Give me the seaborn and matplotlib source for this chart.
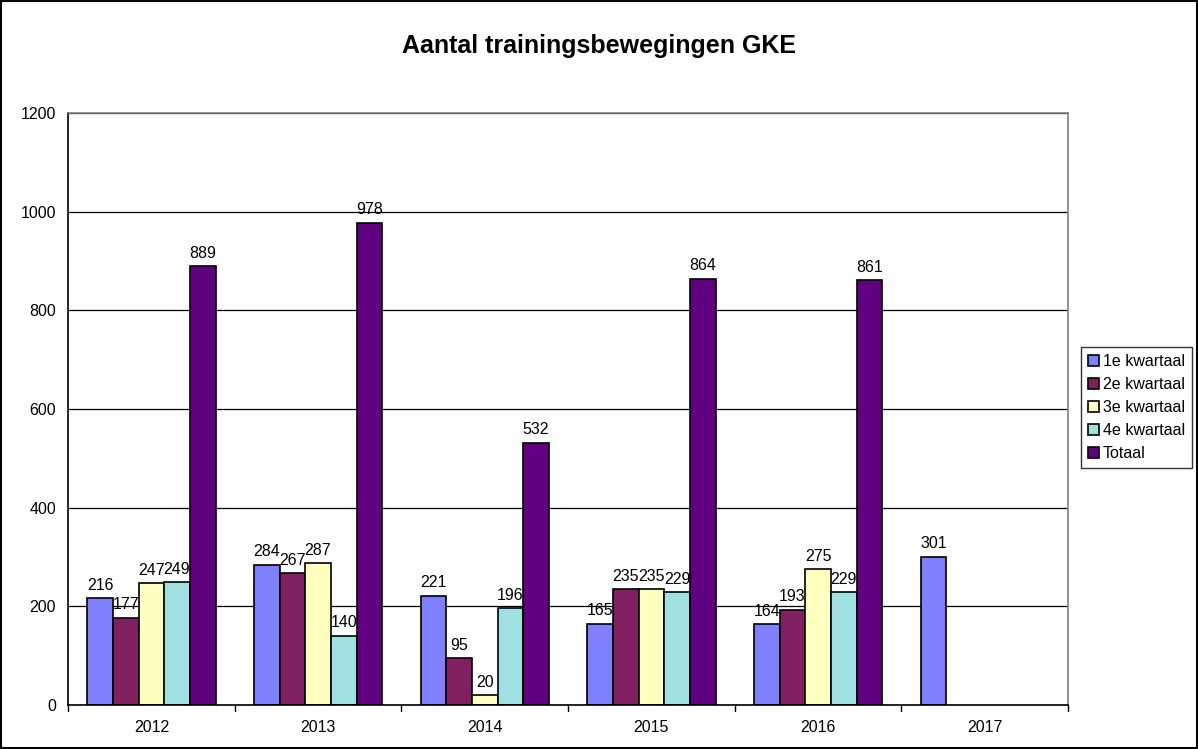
import numpy as np
import pandas as pd
import seaborn as sns
import matplotlib.pyplot as plt

# Gegevens
jaren = ['2012', '2013', '2014', '2015', '2016', '2017']
reeksen = ['1e kwartaal', '2e kwartaal', '3e kwartaal', '4e kwartaal', 'Totaal']
kw1 = [216, 284, 221, 165, 164, 301]
kw2 = [177, 267, 95, 235, 193, np.nan]
kw3 = [247, 287, 20, 235, 275, np.nan]
kw4 = [249, 140, 196, 229, 229, np.nan]
totaal = [889, 978, 532, 864, 861, np.nan]
kleuren = ['#8080FF', '#802060', '#FFFFC0', '#A0E0E0', '#600080']

df = pd.DataFrame({'jaar': jaren * 5,
                   'reeks': np.repeat(reeksen, len(jaren)),
                   'waarde': kw1 + kw2 + kw3 + kw4 + totaal})

sns.set_style('white')
plt.rcParams['font.family'] = ['Liberation Sans', 'DejaVu Sans']
plt.rcParams['text.color'] = 'black'
plt.rcParams['xtick.color'] = 'black'
plt.rcParams['ytick.color'] = 'black'

fig = plt.figure(figsize=(11.98, 7.49), dpi=100)
ax = fig.add_axes([0.0568, 0.0587, 0.8347, 0.7904])

sns.barplot(data=df, x='jaar', y='waarde', hue='reeks', palette=kleuren,
            width=0.77, edgecolor='black', linewidth=1.2, saturation=1,
            ax=ax, legend=True)

# Labels boven de balken
for cont in ax.containers:
    labels = ['' if np.isnan(v) else f'{v:.0f}' for v in cont.datavalues]
    ax.bar_label(cont, labels=labels, padding=4, fontsize=11.5, color='black')

ax.set_ylim(0, 1200)
ax.set_yticks(range(0, 1201, 200))
ax.set_xlim(-0.5, len(jaren) - 0.5)
ax.set_xlabel('')
ax.set_ylabel('')
ax.yaxis.grid(True, color='black', linewidth=0.9)
ax.set_axisbelow(True)
ax.tick_params(axis='both', labelsize=11.5, length=5, color='black', width=1)
ax.tick_params(axis='x', pad=11, length=0)
for x in np.arange(-0.5, len(jaren), 1):
    ax.plot([x, x], [0, -0.01], transform=ax.get_xaxis_transform(),
            color='black', linewidth=1, clip_on=False)
ax.spines['left'].set_color('black')
ax.spines['bottom'].set_color('black')
ax.spines['right'].set_color('#808080')
ax.spines['top'].set_color('#808080')
for s in ['left', 'bottom', 'right', 'top']:
    ax.spines[s].set_linewidth(1.2)

ax.legend(loc='upper left', bbox_to_anchor=(0.9023, 0.5367),
          bbox_transform=fig.transFigure, frameon=True, fancybox=False,
          edgecolor='black', fontsize=11.5, handlelength=0.65, handleheight=0.65,
          handletextpad=0.25, labelspacing=0.5, borderpad=0.45, borderaxespad=0)

fig.suptitle('Aantal trainingsbewegingen GKE', fontsize=18, fontweight='bold', y=0.955)

# Rand rond de figuur
fig.patches.append(plt.Rectangle((0.001, 0.001), 0.998, 0.997, transform=fig.transFigure,
                                 fill=False, edgecolor='black', linewidth=1.5))

fig.savefig('out.png', dpi=100)
